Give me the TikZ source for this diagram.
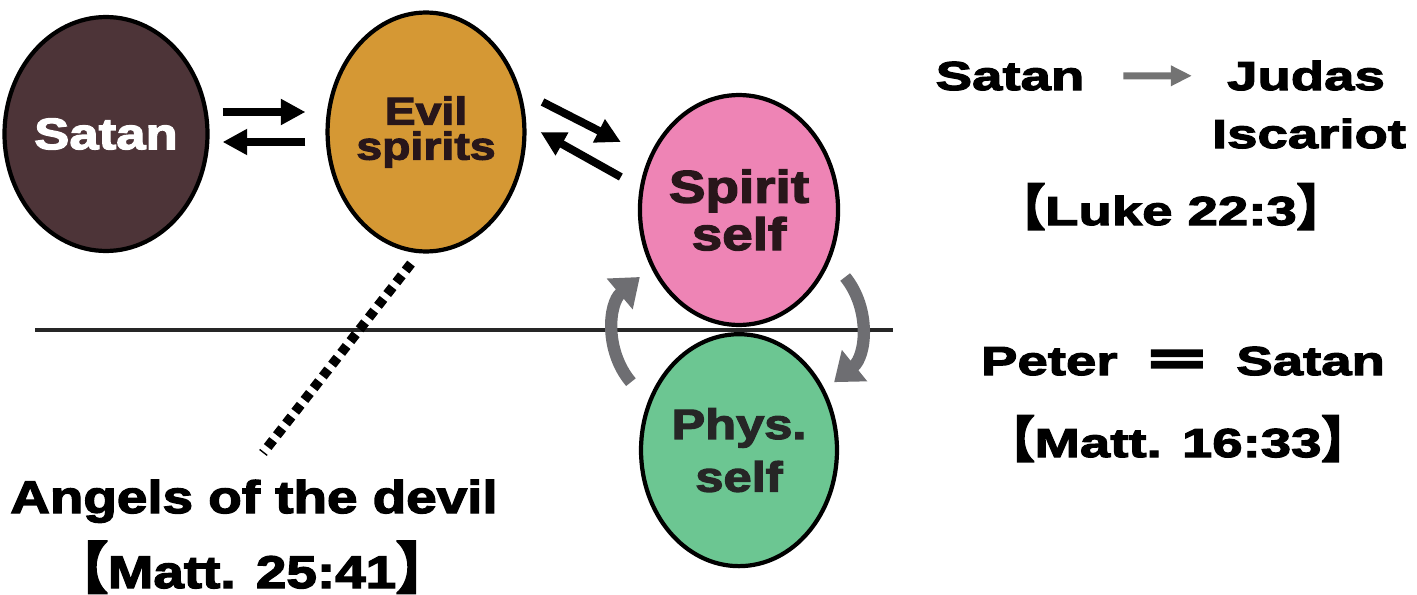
\documentclass[tikz,border=0pt]{standalone}
\usepackage{fontspec}
\usepackage{xcolor}
\usepackage{tikz}
\usetikzlibrary{shapes.geometric, arrows.meta, positioning, calc}
\setmainfont{Liberation Sans}
\newfontfamily\heavyfont{Liberation Sans Bold}[FakeStretch=1.2,FakeBold=3]
\newfontfamily\widefont{Liberation Sans Bold}[FakeStretch=1.35,FakeBold=3]
\newfontfamily\cjkfont{Noto Sans CJK SC}[Scale=1.2,FakeBold=4]
\newcommand{\lbk}{{\cjkfont\bfseries 【}}
\newcommand{\rbk}{{\cjkfont\bfseries 】}}
\definecolor{satanbrown}{RGB}{77,52,56}
\definecolor{evilochre}{RGB}{213,152,52}
\definecolor{spiritpink}{RGB}{238,132,181}
\definecolor{physgreen}{RGB}{108,198,146}
\definecolor{arcgray}{RGB}{110,110,114}
\definecolor{inkdark}{RGB}{40,22,26}

\begin{document}
\begin{tikzpicture}[
    x=0.02cm, y=-0.02cm,
    blob/.style={ellipse, draw=black, line width=2.4pt, inner sep=0pt, align=center},
    link/.style={-{Triangle[length=14pt,width=14pt]}, line width=4.5pt, black},
    turn/.style={-{Triangle[length=15pt,width=22pt]}, line width=7pt, arcgray},
    pointer/.style={-{Triangle[length=12pt,width=11pt]}, line width=4pt, black!55},
    verse/.style={anchor=base, font=\widefont\fontsize{23}{23}\selectfont},
    note/.style={anchor=base, font=\heavyfont\fontsize{26}{26}\selectfont}
]
\useasboundingbox (0,0) rectangle (1417,595);

% Dividing line
\coordinate (lineL) at (35,330);
\coordinate (lineR) at (893,330);
\draw[line width=2.8pt, black!85] (lineL) -- (lineR);

% Ellipses
\node[blob, fill=satanbrown, minimum width=3.58cm, minimum height=4.68cm, text=white, font=\heavyfont\fontsize{25}{25}\selectfont] (satan) at (106,134) {Satan};
\node[blob, fill=evilochre, minimum width=3.5cm, minimum height=4.78cm, text=inkdark, font=\heavyfont\fontsize{22}{20}\selectfont] (evil) at (426,132) {Evil\\spirits};
\node[blob, fill=spiritpink, minimum width=3.9cm, minimum height=4.6cm, text=inkdark, font=\heavyfont\fontsize{26}{27}\selectfont] (spirit) at (739,210) {Spirit\\self};
\node[blob, fill=physgreen, minimum width=3.92cm, minimum height=4.64cm, text=black!85, font=\heavyfont\fontsize{24}{30}\selectfont, below=0.1cm of spirit] (phys) {Phys.\\self};

% Arrows between the ellipses
\draw[link] ($(satan.east)+(13,-22)$) -- ($(evil.west)+(-20,-20)$);
\draw[link] ($(evil.west)+(-20,10)$) -- ($(satan.east)+(13,8)$);
\draw[link] ($(evil.east)+(16,-30)$) -- ($(spirit.west)+(-17,-68)$);
\draw[link] ($(spirit.west)+(-17,-33)$) -- ($(evil.east)+(14,0)$);

% Turning arrows
\draw[turn] ($(phys.west)+(-8,-68)$) to[bend left=45] ($(spirit.west)+(2,67)$);
\draw[turn] ($(spirit.east)+(5,67)$) to[bend left=45] ($(phys.east)+(-5,-68)$);

% Angels of the devil
\coordinate (tip) at (263,453);
\draw[line width=5.5pt, dash pattern=on 5pt off 3.5pt] ($(evil.south)+(-15,10)$) -- (tip);
\node[note] (angels) at (254,513) {Angels of the devil};
\node[note] (mattL) at (252,588) {\lbk Matt. 25:41\rbk};

% Verses on the right
\node[verse] (satanR) at (1010,90) {Satan};
\node[verse] (judas) at (1306,90) {Judas};
\node[verse] (iscariot) at (1309,148) {Iscariot};
\node[verse] (luke) at (1171,225) {\lbk Luke 22:3\rbk};
\draw[pointer, shorten <=0.66cm, shorten >=0.58cm] (satanR) -- (judas);
\node[verse] (peter) at (1183,375) {Peter\hspace{0.6em}\raisebox{-0.08em}{\scalebox{1.45}[1]{\cjkfont\bfseries ＝}}\hspace{0.6em}Satan};
\node[verse] (mattR) at (1178,457) {\lbk Matt. 16:33\rbk};
\end{tikzpicture}
\end{document}
